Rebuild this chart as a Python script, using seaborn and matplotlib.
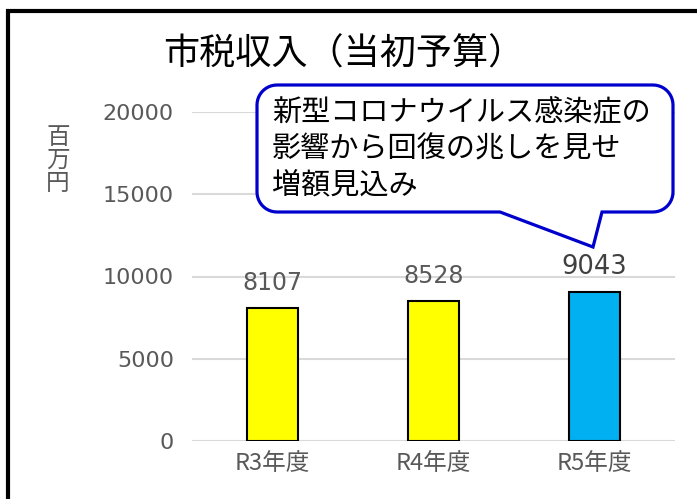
import numpy as np
import pandas as pd
import matplotlib
matplotlib.use('Agg')
import matplotlib.pyplot as plt
import seaborn as sns
from matplotlib.patches import Polygon, Rectangle

# dados
years = ['R3年度', 'R4年度', 'R5年度']
revenue = [8107, 8528, 9043]
bar_colors = ['#ffff00', '#ffff00', '#00b0f0']
yticks = [0, 5000, 10000, 15000, 20000]

title = '市税収入（当初予算）'
unit = '百\n万\n円'
note = '新型コロナウイルス感染症の\n影響から回復の兆しを見せ\n増額見込み'

sns.set_theme(style='white')
plt.rcParams['font.family'] = ['Noto Sans CJK JP', 'DejaVu Sans']

df = pd.DataFrame({'year': years, 'revenue': revenue})

W, H = 697, 499
fig = plt.figure(figsize=(W / 100, H / 100), dpi=100)
ax = fig.add_axes([192 / W, 1 - 441 / H, (675 - 192) / W, (441 - 112) / H])

sns.barplot(data=df, x='year', y='revenue', hue='year', palette=bar_colors,
            width=0.317, edgecolor='black', linewidth=1.5, legend=False,
            saturation=1, ax=ax, zorder=3)

ax.set_xlim(-0.5, 2.5)
ax.set_ylim(0, 20000)
ax.set_yticks(yticks)
ax.set_yticklabels([str(v) for v in yticks], family='DejaVu Sans', fontsize=16, color='#595959')
ax.tick_params(axis='y', length=0, pad=13)
ax.tick_params(axis='x', length=0, pad=8, labelsize=17, labelcolor='#595959')
ax.grid(axis='y', color='#d9d9d9', linewidth=1.5, zorder=0)
ax.set_axisbelow(True)
for s in ax.spines.values():
    s.set_visible(False)
ax.set_xlabel('')
ax.set_ylabel('')

# rótulos dos valores
for i, cont in enumerate(ax.containers):
    last = i == len(ax.containers) - 1
    ax.bar_label(cont, labels=[str(revenue[i])], padding=9,
                 family='DejaVu Sans', fontsize=18.5 if last else 17,
                 color='#404040' if last else '#595959')

fig.text(344 / W, 1 - 55 / H, title, ha='center', va='center', fontsize=26,
         color='black')
fig.text(58 / W, 1 - 160 / H, unit, ha='center', va='center', fontsize=17,
         color='#595959', linespacing=1.0)

# balão de comentário (coordenadas em pixels, y para baixo)
def px(x, y):
    return (x / 100, (H - y) / 100)

l, r, t, b, rad = 257, 673, 85, 212, 20
pts = []
def arc(cx, cy, a0, a1):
    for a in np.linspace(np.radians(a0), np.radians(a1), 12):
        pts.append((cx + rad * np.cos(a), cy + rad * np.sin(a)))
arc(r - rad, t + rad, -90, 0)
arc(r - rad, b - rad, 0, 90)
pts += [(602, b), (593, 247), (500, b)]
arc(l + rad, b - rad, 90, 180)
arc(l + rad, t + rad, 180, 270)
bubble = Polygon([px(x, y) for x, y in pts], closed=True, facecolor='white',
                 edgecolor='#0000cc', linewidth=2.3, transform=fig.dpi_scale_trans, zorder=5)
fig.add_artist(bubble)
fig.text(272 / W, 1 - 149 / H, note, ha='left', va='center', fontsize=21,
         color='black', linespacing=1.27, zorder=6)

# moldura
frame = Rectangle(px(8, 560), 7.6, (560 - 11) / 100, facecolor='none', edgecolor='black',
                  linewidth=3, transform=fig.dpi_scale_trans)
fig.add_artist(frame)

fig.savefig('out.png', dpi=100)
